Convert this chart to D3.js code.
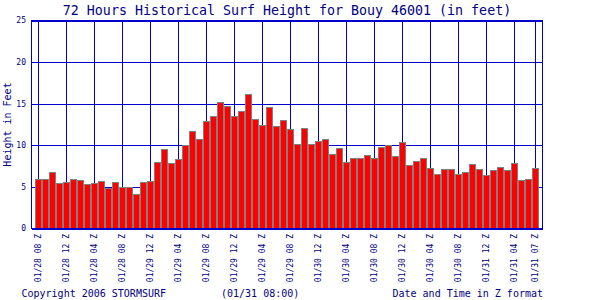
<!DOCTYPE html>
<html>
<head>
<meta charset="utf-8">
<script src="https://cdn.jsdelivr.net/npm/d3@7"></script>
<style>
  body { margin: 0; background: #fff; }
  text { font-family: "DejaVu Sans Mono", monospace; fill: #000080; }
</style>
</head>
<body>
<script>
// hourly surf heights (feet), 01/28 08Z .. 01/31 07Z
var heights = [6.0, 6.0, 6.75, 5.45, 5.6, 5.95, 5.8, 5.35, 5.45, 5.7, 4.85, 5.6,
    5.0, 5.0, 4.15, 5.6, 5.7, 8.0, 9.55, 7.85, 8.35, 10.0, 11.7, 10.75,
    12.9, 13.5, 15.2, 14.7, 13.5, 14.1, 16.2, 13.15, 12.45, 14.6, 12.3, 13.05,
    11.95, 10.15, 12.1, 10.15, 10.5, 10.75, 8.95, 9.65, 8.0, 8.45, 8.45, 8.85,
    8.45, 9.8, 10.0, 8.7, 10.4, 7.65, 8.1, 8.45, 7.25, 6.55, 7.15, 7.15,
    6.55, 6.8, 7.75, 7.15, 6.4, 7.0, 7.4, 7.0, 7.85, 5.8, 5.95, 7.25];
var tickHours = [0, 4, 8, 12, 16, 20, 24, 28, 32, 36, 40, 44, 48, 52, 56, 60, 64, 68, 71];
var tickLabels = ["01/28 08 Z", "01/28 12 Z", "01/28 04 Z", "01/28 08 Z", "01/29 12 Z",
    "01/29 04 Z", "01/29 08 Z", "01/29 12 Z", "01/29 04 Z", "01/29 08 Z", "01/30 12 Z",
    "01/30 04 Z", "01/30 08 Z", "01/30 12 Z", "01/30 04 Z", "01/30 08 Z", "01/31 12 Z",
    "01/31 04 Z", "01/31 07 Z"];
var yTicks = [0, 5, 10, 15, 20, 25];

var width = 600, height = 300;
var pLeft = 31.5, pRight = 542.5, pTop = 20.5, pBottom = 228.5;
var blue = "#0000cc";

var svg = d3.select("body").append("svg")
    .attr("width", width).attr("height", height);

var x = d3.scaleBand().domain(d3.range(heights.length)).range([35, 539]);
var y = d3.scaleLinear().domain([0, 25]).range([pBottom, pTop]);
var bw = x.bandwidth();

// grid
var grid = svg.append("g").attr("stroke", blue).attr("shape-rendering", "crispEdges");
grid.selectAll("line.h").data(yTicks).enter().append("line")
    .attr("x1", pLeft).attr("x2", pRight)
    .attr("y1", function (d) { return Math.round(y(d)) + 0.5; })
    .attr("y2", function (d) { return Math.round(y(d)) + 0.5; });
grid.selectAll("line.v").data(tickHours).enter().append("line")
    .attr("y1", pTop).attr("y2", pBottom)
    .attr("x1", function (d) { return Math.floor(x(d) + bw / 2) + 0.5; })
    .attr("x2", function (d) { return Math.floor(x(d) + bw / 2) + 0.5; });

// bars
svg.append("g").selectAll("rect").data(heights).enter().append("rect")
    .attr("x", function (d, i) { return Math.round(x(i)) + 0.5; })
    .attr("width", bw - 1)
    .attr("y", function (d) { return Math.round(y(d)) + 0.5; })
    .attr("height", function (d) { return pBottom - Math.round(y(d)) - 0.5; })
    .attr("fill", "#ff0000")
    .attr("stroke", "#808080")
    .attr("shape-rendering", "crispEdges");

// frame
svg.append("rect")
    .attr("x", pLeft).attr("y", pTop)
    .attr("width", pRight - pLeft).attr("height", pBottom - pTop)
    .attr("fill", "none").attr("stroke", blue)
    .attr("shape-rendering", "crispEdges");

// y tick labels
svg.selectAll("text.yt").data(yTicks).enter().append("text")
    .attr("x", 26).attr("y", function (d) { return y(d); })
    .attr("dy", "0.35em")
    .attr("text-anchor", "end")
    .style("font-size", "8px")
    .text(function (d) { return d; });

// x tick labels
svg.selectAll("text.xt").data(tickHours).enter().append("text")
    .attr("transform", function (d) { return "translate(" + (x(d) + bw / 2) + ",234) rotate(-90)"; })
    .attr("dy", "0.35em")
    .attr("text-anchor", "end")
    .style("font-size", "8px")
    .text(function (d, i) { return tickLabels[i]; });

// titles
svg.append("text")
    .attr("x", (pLeft + pRight) / 2).attr("y", 14.5)
    .attr("text-anchor", "middle")
    .style("font-size", "13.3px")
    .text("72 Hours Historical Surf Height for Bouy 46001 (in feet)");

svg.append("text")
    .attr("transform", "translate(11," + (pTop + pBottom) / 2 + ") rotate(-90)")
    .attr("text-anchor", "middle")
    .style("font-size", "10px")
    .text("Height in Feet");

svg.append("text").attr("x", 21.5).attr("y", 297)
    .style("font-size", "10px").text("Copyright 2006 STORMSURF");
svg.append("text").attr("x", 221).attr("y", 297)
    .style("font-size", "10px").text("(01/31 08:00)");
svg.append("text").attr("x", 543).attr("y", 297)
    .attr("text-anchor", "end")
    .style("font-size", "10px").text("Date and Time in Z format");
</script>
</body>
</html>
